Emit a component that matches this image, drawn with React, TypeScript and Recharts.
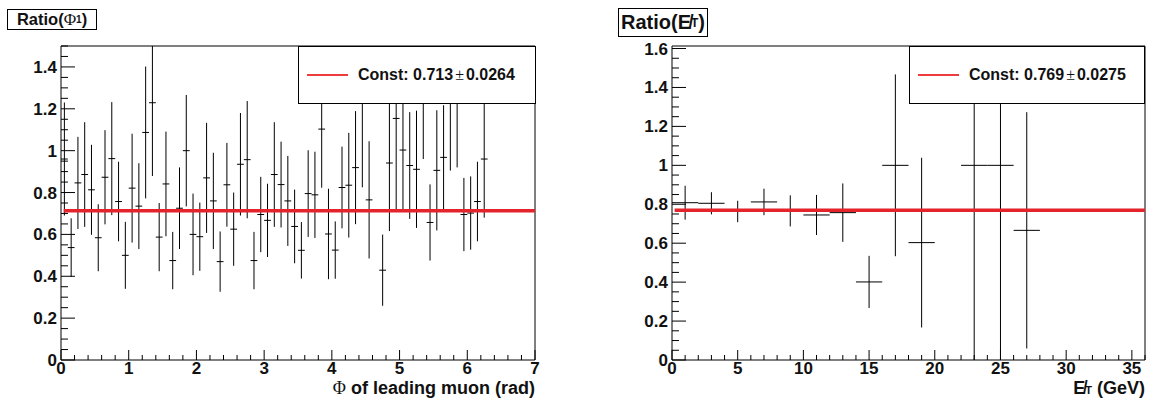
import React from 'react';
import { ComposedChart, Scatter, ErrorBar, Line, XAxis, YAxis, ReferenceArea, Legend } from 'recharts';

// ---------- Left panel: Ratio(Phi_1) ----------
const phiBins = [
  0.05, 0.15, 0.25, 0.35, 0.45, 0.55, 0.65, 0.75, 0.85, 0.95,
  1.05, 1.15, 1.25, 1.35, 1.45, 1.55, 1.65, 1.75, 1.85, 1.95,
  2.05, 2.15, 2.25, 2.35, 2.45, 2.55, 2.65, 2.75, 2.85, 2.95,
  3.05, 3.15, 3.25, 3.35, 3.45, 3.55, 3.65, 3.75, 3.85, 3.95,
  4.05, 4.15, 4.25, 4.35, 4.45, 4.55, 4.65, 4.75, 4.85, 4.95,
  5.05, 5.15, 5.25, 5.35, 5.45, 5.55, 5.65, 5.75, 5.85, 5.95,
  6.05, 6.15, 6.25,
];
const phiRatio: (number | null)[] = [
  0.96, 0.537, 0.846, 0.886, 0.813, 0.584, 0.873, 0.962, 0.757, 0.5,
  0.821, 0.735, 1.087, 1.229, 0.587, 0.841, 0.475, 0.725, 1.0, 0.6,
  0.589, 0.87, 0.76, 0.47, 0.837, 0.625, 0.935, 0.957, 0.475, 0.695,
  0.667, 0.886, 0.838, 0.76, 0.638, 0.524, 0.795, 0.789, 1.103, 0.602,
  0.525, 0.824, 0.835, 0.919, 1.25, 0.765, null, 0.429, 0.941, 1.154,
  1.003, 0.929, 0.911, 1.33, 0.657, 0.906, 0.968, 1.3, 1.33, 0.695,
  0.702, 0.757, 0.96,
];
const phiErr: (number | null)[] = [
  0.27, 0.14, 0.22, 0.25, 0.215, 0.16, 0.225, 0.27, 0.19, 0.16,
  0.26, 0.205, 0.315, 0.35, 0.163, 0.25, 0.137, 0.195, 0.266, 0.195,
  0.163, 0.263, 0.23, 0.144, 0.2, 0.175, 0.245, 0.28, 0.137, 0.18,
  0.175, 0.25, 0.205, 0.215, 0.176, 0.135, 0.207, 0.206, 0.28, 0.216,
  0.137, 0.195, 0.25, 0.27, 0.425, 0.28, null, 0.17, 0.325, 0.435,
  0.284, 0.255, 0.28, 0.37, 0.182, 0.287, 0.249, 0.395, 0.41, 0.175,
  0.175, 0.19, 0.28,
];
const phiHalfWidth = 0.05;
const phiFitX = [0.04, 7];
const phiFitConst = 0.713;
const phiLegend = ['Const: 0.713', '\u00b1', '0.0264'];
const phiXMajor = [0, 1, 2, 3, 4, 5, 6, 7];
const phiYMajor = [0, 0.2, 0.4, 0.6, 0.8, 1, 1.2, 1.4];
const phiXDomain = [0, 7];
const phiYDomain = [0, 1.5];

// ---------- Right panel: Ratio(MET) ----------
const metBins = [1, 3, 5, 7, 9, 11, 13, 15, 17, 19, 23, 25, 27];
const metRatio = [0.808, 0.805, 0.763, 0.812, 0.766, 0.745, 0.757, 0.401, 1.0, 0.603, 1.0, 1.0, 0.666];
const metErr = [0.087, 0.057, 0.055, 0.068, 0.08, 0.103, 0.15, 0.134, 0.467, 0.436, 1.0, 1.0, 0.607];
const metHalfWidth = 1;
const metFitX = [0.2, 36];
const metFitConst = 0.769;
const metLegend = ['Const: 0.769', '\u00b1', '0.0275'];
const metXMajor = [0, 5, 10, 15, 20, 25, 30, 35];
const metYMajor = [0, 0.2, 0.4, 0.6, 0.8, 1, 1.2, 1.4, 1.6];
const metXDomain = [0, 36];
const metYDomain = [0, 1.613];

const FONT = "'Liberation Sans', Arial, Helvetica, sans-serif";
const SERIF = "'Liberation Serif', 'DejaVu Serif', serif";
const MET = 'E\u0338';

const steps = (max: number, step: number) => {
  const out: number[] = [];
  for (let i = 0; i * step <= max + 1e-9; i++) out.push(Math.round(i * step * 1000) / 1000);
  return out;
};
const isMajor = (v: number, majors: number[]) => majors.some((m) => Math.abs(m - v) < 1e-6);
const fmt = (v: number) => String(Math.round(v * 10) / 10);

const XTick = (props: any) => {
  const { x, y, payload, majors } = props;
  const major = isMajor(payload.value, majors);
  return (
    <g>
      <line x1={x} x2={x} y1={y} y2={y - (major ? 10 : 5)} stroke="#000" strokeWidth={1} />
      {major && (
        <text x={x} y={y + 14} textAnchor="middle" fontSize={17} fontWeight="bold" fill="#111" fontFamily={FONT}>
          {fmt(payload.value)}
        </text>
      )}
    </g>
  );
};

const YTick = (props: any) => {
  const { x, y, payload, majors } = props;
  const major = isMajor(payload.value, majors);
  return (
    <g>
      <line x1={x} x2={x + (major ? 14 : 7)} y1={y} y2={y} stroke="#000" strokeWidth={1} />
      {major && (
        <text x={x - 4} y={y + 6} textAnchor="end" fontSize={17} fontWeight="bold" fill="#111" fontFamily={FONT}>
          {fmt(payload.value)}
        </text>
      )}
    </g>
  );
};

const LegendBox = ({ parts }: { parts: string[] }) => (
  <div
    style={{
      width: '100%',
      height: '100%',
      boxSizing: 'border-box',
      border: '1px solid #000',
      background: '#fff',
      display: 'flex',
      alignItems: 'center',
      fontFamily: FONT,
      fontWeight: 'bold',
      fontSize: 16,
      color: '#111',
      whiteSpace: 'nowrap',
    }}
  >
    <span style={{ display: 'inline-block', width: 41, height: 2, background: '#ee3b3b', marginLeft: 8, marginRight: 10 }} />
    <span>{parts[0]}</span>
    <span style={{ fontWeight: 'normal', fontFamily: SERIF, margin: '0 2px' }}>{parts[1]}</span>
    <span>{parts[2]}</span>
  </div>
);

type Pt = { x: number; y: number; ex: number; ey: number[] };

// build points; vertical error bars are cut at the frame (as the plot area clips them)
const buildPoints = (xs: number[], ys: (number | null)[], errs: (number | null)[], hw: number, dom: number[]): Pt[] => {
  const out: Pt[] = [];
  xs.forEach((x, i) => {
    const y = ys[i];
    const e = errs[i];
    if (y == null || e == null) return;
    out.push({ x, y, ex: hw, ey: [Math.min(e, y - dom[0]), Math.min(e, dom[1] - y)] });
  });
  return out;
};

type PanelProps = {
  width: number;
  yAxisWidth: number;
  rightMargin: number;
  xDomain: number[];
  yDomain: number[];
  xMajor: number[];
  xMinorStep: number;
  yMajor: number[];
  yMinorStep: number;
  points: Pt[];
  fit: { x: number; y: number }[];
  legendParts: string[];
  legendLeft: number;
  legendWidth: number;
  xTitle: (vb: any) => React.ReactNode;
};

const Panel = (p: PanelProps) => {
  const xTicks = steps(p.xDomain[1], p.xMinorStep);
  const yTicks = steps(p.yDomain[1], p.yMinorStep);
  return (
    <ComposedChart width={p.width} height={400} margin={{ top: 46, right: p.rightMargin, bottom: 0, left: 0 }}>
      <XAxis
        type="number"
        dataKey="x"
        domain={p.xDomain}
        allowDataOverflow
        ticks={xTicks}
        interval={0}
        height={40}
        tickSize={0}
        tickMargin={0}
        axisLine={false}
        tickLine={false}
        tick={(tp: any) => <XTick {...tp} majors={p.xMajor} />}
        label={{ content: (lp: any) => p.xTitle(lp.viewBox) }}
      />
      <YAxis
        type="number"
        domain={p.yDomain}
        allowDataOverflow
        ticks={yTicks}
        interval={0}
        width={p.yAxisWidth}
        tickSize={0}
        tickMargin={0}
        axisLine={false}
        tickLine={false}
        tick={(tp: any) => <YTick {...tp} majors={p.yMajor} />}
      />
      <ReferenceArea
        x1={p.xDomain[0]}
        x2={p.xDomain[1]}
        y1={p.yDomain[0]}
        y2={p.yDomain[1]}
        fill="none"
        fillOpacity={0}
        stroke="#000"
        strokeWidth={1}
        ifOverflow="visible"
      />
      <Scatter data={p.points} dataKey="y" isAnimationActive={false} shape={() => <g />} legendType="none">
        <ErrorBar dataKey="ey" direction="y" width={0} stroke="#000" strokeWidth={1} isAnimationActive={false} />
        <ErrorBar dataKey="ex" direction="x" width={0} stroke="#000" strokeWidth={1} isAnimationActive={false} />
      </Scatter>
      <Line data={p.fit} dataKey="y" stroke="#e4232a" strokeWidth={3.5} dot={false} activeDot={false} isAnimationActive={false} />
      <Legend
        layout="horizontal"
        verticalAlign="middle"
        align="center"
        width={p.legendWidth}
        height={58}
        wrapperStyle={{ left: p.legendLeft, top: 46, width: p.legendWidth, height: 58 }}
        content={() => <LegendBox parts={p.legendParts} />}
      />
    </ComposedChart>
  );
};

const phiPoints = buildPoints(phiBins, phiRatio, phiErr, phiHalfWidth, phiYDomain);
const phiFit = phiFitX.map((x) => ({ x, y: phiFitConst }));
const metPoints = buildPoints(metBins, metRatio, metErr, metHalfWidth, metYDomain);
const metFit = metFitX.map((x) => ({ x, y: metFitConst }));

const titleBox: React.CSSProperties = {
  position: 'absolute',
  boxSizing: 'border-box',
  border: '1px solid #000',
  background: '#fff',
  fontFamily: FONT,
  fontWeight: 'bold',
  color: '#111',
  display: 'flex',
  alignItems: 'center',
  justifyContent: 'center',
  whiteSpace: 'nowrap',
};

export default function App() {
  return (
    <div style={{ position: 'absolute', left: 0, top: 0, width: 1155, height: 400, background: '#fff', overflow: 'hidden' }}>
      <div style={{ position: 'absolute', left: 0, top: 0 }}>
        <Panel
          width={578}
          yAxisWidth={61}
          rightMargin={43}
          xDomain={phiXDomain}
          yDomain={phiYDomain}
          xMajor={phiXMajor}
          xMinorStep={0.2}
          yMajor={phiYMajor}
          yMinorStep={0.05}
          points={phiPoints}
          fit={phiFit}
          legendParts={phiLegend}
          legendLeft={298}
          legendWidth={238}
          xTitle={(vb: any) => (
            <text x={vb.x + vb.width} y={vb.y + 34} textAnchor="end" fontSize={18} fontWeight="bold" fill="#111" fontFamily={FONT}>
              <tspan fontFamily={SERIF} fontWeight="normal">{'\u03a6'}</tspan>
              <tspan> of leading muon (rad)</tspan>
            </text>
          )}
        />
      </div>
      <div style={{ position: 'absolute', left: 578, top: 0 }}>
        <Panel
          width={577}
          yAxisWidth={94}
          rightMargin={10}
          xDomain={metXDomain}
          yDomain={metYDomain}
          xMajor={metXMajor}
          xMinorStep={1}
          yMajor={metYMajor}
          yMinorStep={0.05}
          points={metPoints}
          fit={metFit}
          legendParts={metLegend}
          legendLeft={331}
          legendWidth={236}
          xTitle={(vb: any) => (
            <text x={vb.x + vb.width} y={vb.y + 34} textAnchor="end" fontSize={18} fontWeight="bold" fill="#111" fontFamily={FONT}>
              {MET}
              <tspan fontSize={11}>T</tspan>
              <tspan> (GeV)</tspan>
            </text>
          )}
        />
      </div>
      <div style={{ ...titleBox, left: 7, top: 9, width: 90, height: 21, fontSize: 16.5 }}>
        Ratio(<span style={{ fontFamily: SERIF, fontWeight: 'normal', fontSize: 17 }}>{'\u03a6'}</span>
        <span style={{ fontSize: 10 }}>1</span>)
      </div>
      <div style={{ ...titleBox, left: 618, top: 8, width: 90, height: 29, fontSize: 20 }}>
        Ratio({MET}<span style={{ fontSize: 12 }}>T</span>)
      </div>
    </div>
  );
}
